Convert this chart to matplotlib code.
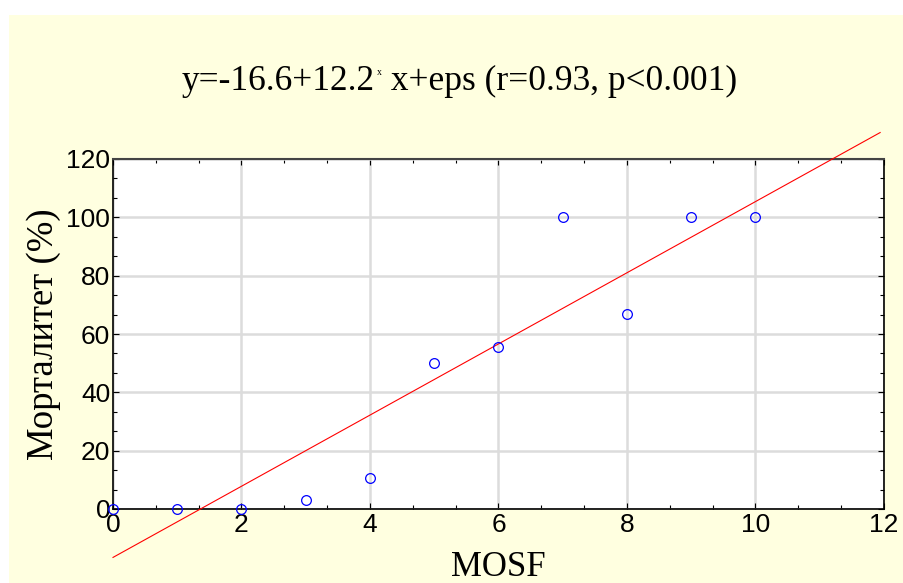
import numpy as np
import matplotlib.pyplot as plt
from matplotlib.patches import Rectangle
from matplotlib.text import Annotation
from matplotlib.ticker import MultipleLocator

# MOSF score vs. mortality
mosf = [0, 1, 2, 3, 4, 5, 6, 7, 8, 9, 10]
mortality = [0, 0, 0, 3.2, 10.8, 50, 55.6, 100, 66.7, 100, 100]

# fitted regression line
intercept = -16.6
slope = 12.2
fit_x = [0, 11.94]

SERIF = 'Liberation Serif'
SANS = 'Liberation Sans'
BG = '#FFFFE0'

fig = plt.figure(figsize=(9.04, 5.83), dpi=100, facecolor='white')
fig.patches.append(Rectangle((9 / 904, 0), 1 - 9 / 904, 568 / 583,
                             transform=fig.transFigure, facecolor=BG,
                             edgecolor='none', zorder=-10))

ax = fig.add_axes([113 / 904, 74 / 583, 771 / 904, 350 / 583])
ax.set_facecolor('white')

ax.set_xlim(0, 12)
ax.set_ylim(0, 120)
ax.xaxis.set_major_locator(MultipleLocator(2))
ax.xaxis.set_minor_locator(MultipleLocator(2 / 3))
ax.yaxis.set_major_locator(MultipleLocator(20))
ax.yaxis.set_minor_locator(MultipleLocator(20 / 3))
ax.grid(True, which='major', color='#DCDCDC', lw=1.8, zorder=0)
ax.set_axisbelow(True)

ax.tick_params(which='both', direction='in', top=True, right=True,
               color='black', width=0.8)
ax.tick_params(which='major', length=4)
ax.tick_params(which='minor', length=3)
ax.tick_params(axis='x', pad=3, labelsize=19)
ax.tick_params(axis='y', pad=2, labelsize=19)
for lab in ax.get_xticklabels() + ax.get_yticklabels():
    lab.set_fontfamily(SANS)

for side in ['left', 'bottom', 'right']:
    ax.spines[side].set_color('black')
    ax.spines[side].set_linewidth(1.2)
ax.spines['top'].set_color('#444444')
ax.spines['top'].set_linewidth(1.5)

fx = np.array(fit_x)
ax.plot(fx, intercept + slope * fx, color='red', lw=0.8, clip_on=False, zorder=3)
ax.plot(mosf, mortality, 'o', ms=7, mfc='none', mec='blue', mew=0.9,
        clip_on=False, zorder=4)

ax.set_xlabel('MOSF', family=SERIF, fontsize=25, labelpad=10)
ax.set_ylabel('Морталитет (%)', family=SERIF, fontsize=26.5, labelpad=4)

# title with the small raised "x" used as multiplication sign
t1 = fig.text(182 / 904, 1 - 90 / 583, 'y=-16.6+12.2', family=SERIF,
              fontsize=25.5, ha='left', va='baseline')
fig.add_artist(Annotation('x', xy=(1, 1), xycoords=t1, xytext=(1.5, -2),
                          textcoords='offset points', family=SERIF,
                          fontsize=7, ha='left', va='top'))
fig.add_artist(Annotation(' x+eps (r=0.93, p<0.001)', xy=(1, 0),
                          xycoords=t1, xytext=(5, 0),
                          textcoords='offset points', family=SERIF,
                          fontsize=25.5, ha='left', va='bottom'))

fig.savefig('out.png', dpi=100, facecolor=fig.get_facecolor())
